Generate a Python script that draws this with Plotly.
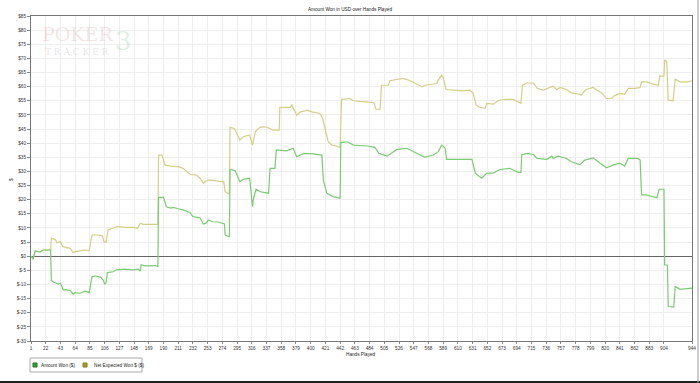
import plotly.graph_objects as go

# ---------------- data ----------------
hands_amount = [1, 4, 7, 14, 18, 29, 30, 33, 40, 43, 47, 51, 57, 61, 64, 71, 78, 84, 88, 93, 100, 104, 106, 108, 110,
                118, 123, 135, 147, 154, 157, 158, 164, 171, 178, 182, 183, 190, 194, 200, 204, 211, 218, 228, 232,
                242, 247, 251, 254, 260, 268, 277, 278, 284, 285, 292, 299, 304, 313, 317, 318, 322, 328, 340, 342,
                349, 351, 366, 375, 380, 390, 404, 416, 418, 423, 432, 442, 443, 452, 461, 480, 492, 497, 509, 523,
                537, 551, 563, 575, 582, 587, 592, 594, 630, 635, 644, 651, 661, 670, 684, 696, 700, 701, 708, 718,
                723, 737, 744, 746, 753, 765, 772, 784, 791, 803, 808, 813, 822, 832, 841, 848, 853, 867, 870, 872,
                879, 894, 897, 904, 905, 909, 910, 918, 920, 927, 944]
amount_won = [0, -1, 1.9, 1.5, 2.2, 2.2, -8.6, -9.1, -9.9, -9.5, -11.9, -11.8, -12.2, -13.4, -12.9, -13.1, -12.4,
              -12.9, -7.2, -7.0, -7.4, -8.4, -9.8, -9.5, -5.8, -5.5, -4.8, -4.6, -4.8, -4.6, -5.2, -3.0, -3.4, -3.4,
              -3.3, -3.7, 20.8, 20.8, 17.5, 17.0, 17.3, 16.8, 16.4, 15.4, 14.0, 13.6, 11.4, 11.7, 12.8, 12.2, 12.1,
              11.4, 7.5, 6.9, 30.7, 30.3, 26.4, 27.2, 27.6, 17.5, 19.9, 23.7, 22.8, 22.3, 31.1, 31.1, 37.6, 37.3,
              38.2, 35.2, 36.4, 36.2, 35.8, 27.0, 22.3, 21.1, 20.5, 40.2, 40.5, 39.3, 39.0, 38.5, 36.4, 35.4, 37.8,
              38.2, 36.6, 35.0, 35.8, 37.0, 39.3, 38.2, 34.3, 34.3, 29.3, 27.6, 29.3, 29.5, 30.7, 31.1, 29.7, 29.7,
              35.8, 36.4, 36.0, 34.6, 34.3, 35.4, 34.6, 35.4, 34.6, 33.4, 32.3, 34.0, 34.8, 34.0, 32.9, 31.3, 32.3,
              32.9, 31.9, 34.6, 34.6, 34.0, 21.7, 21.7, 20.7, 23.7, 23.7, -3.1, -3.1, -17.8, -18.0, -10.7, -11.7,
              -11.3]

hands_expected = [1, 4, 7, 14, 18, 29, 30, 36, 38, 43, 46, 50, 57, 61, 64, 71, 78, 84, 88, 97, 103, 105, 108, 111,
                  117, 124, 135, 147, 153, 157, 161, 182, 183, 188, 192, 200, 211, 218, 228, 237, 242, 247, 251, 257,
                  268, 276, 278, 284, 285, 291, 294, 299, 304, 313, 317, 321, 328, 335, 341, 347, 355, 356, 371, 373,
                  375, 380, 385, 395, 402, 413, 417, 421, 425, 430, 437, 442, 444, 456, 461, 478, 490, 493, 499, 501,
                  511, 513, 523, 532, 542, 549, 559, 563, 573, 580, 582, 587, 589, 593, 604, 618, 627, 632, 636, 641,
                  649, 651, 661, 668, 680, 689, 696, 700, 702, 708, 718, 723, 732, 742, 746, 751, 756, 765, 772, 782,
                  786, 793, 803, 808, 815, 822, 830, 832, 841, 848, 853, 863, 870, 872, 879, 889, 896, 898, 904, 905,
                  908, 910, 917, 920, 927, 936, 944]
expected_won = [0, -1, 1.9, 1.5, 2.2, 2.2, 6.4, 5.8, 4.8, 5.2, 3.4, 3.2, 2.8, 1.3, 1.6, 1.9, 2.2, 2.0, 7.5, 7.5, 7.2,
                5.2, 4.9, 9.3, 9.9, 10.5, 10.2, 10.2, 9.9, 11.7, 11.3, 11.3, 35.8, 35.8, 32.3, 31.9, 31.7, 31.1, 29.0,
                28.7, 27.6, 25.8, 26.7, 27.0, 26.6, 26.4, 22.8, 22.0, 45.6, 45.2, 43.7, 41.1, 42.3, 42.9, 39.3, 44.0,
                45.7, 45.8, 45.3, 44.6, 44.6, 52.7, 52.7, 53.7, 52.4, 49.9, 51.0, 51.7, 51.1, 50.5, 48.8, 44.6, 40.5,
                39.3, 39.0, 38.4, 55.5, 55.8, 55.0, 54.6, 54.3, 52.0, 52.0, 60.5, 60.5, 62.1, 62.6, 62.9, 62.1, 61.1,
                59.9, 60.5, 60.9, 61.1, 62.3, 64.1, 63.3, 59.0, 58.8, 58.5, 58.8, 57.6, 53.5, 52.7, 52.3, 54.1, 53.8,
                55.2, 55.5, 55.5, 54.6, 54.1, 60.5, 61.3, 61.3, 59.4, 58.8, 59.7, 60.2, 59.0, 59.7, 59.0, 57.8, 57.4,
                57.0, 59.0, 59.7, 58.8, 57.8, 55.8, 55.8, 56.6, 57.6, 57.3, 59.4, 59.4, 59.7, 61.7, 61.7, 60.9, 60.5,
                63.7, 63.7, 69.4, 68.8, 55.2, 55.0, 62.6, 61.7, 61.7, 62.0]

x_tick_vals = [1, 22, 43, 64, 85, 106, 127, 148, 169, 190, 211, 232, 253, 274, 295, 316, 337, 358, 379, 400, 421,
               442, 463, 484, 505, 526, 547, 568, 589, 610, 631, 652, 673, 694, 715, 736, 757, 778, 799, 820, 841,
               862, 883, 904, 944]
y_tick_vals = [-30, -25, -20, -15, -10, -5, 0, 5, 10, 15, 20, 25, 30, 35, 40, 45, 50, 55, 60, 65, 70, 75, 80, 85]
y_tick_text = ["$" + str(v) for v in y_tick_vals]

series_names = ["Amount Won ($)", "Net Expected Won $ ($)"]
title_text = "Amount Won in USD over Hands Played"

# ---------------- styling ----------------
W, H = 700, 383
ML, MR, MT, MB = 31, 8, 16, 42
PW, PH = W - ML - MR, H - MT - MB
FONT = "Liberation Sans, Arial, sans-serif"
FS = 4.7
GREEN_LINE = "#7acb72"
YELLOW_LINE = "#d3cf86"


def px(xp):
    return (xp - ML) / PW


def py(yp):
    return (H - MB - yp) / PH


fig = go.Figure()
fig.add_trace(go.Scatter(x=hands_expected, y=expected_won, mode="lines", name=series_names[1],
                         line=dict(color=YELLOW_LINE, width=1.2), showlegend=False))
fig.add_trace(go.Scatter(x=hands_amount, y=amount_won, mode="lines", name=series_names[0],
                         line=dict(color=GREEN_LINE, width=1.2), showlegend=False))

fig.update_layout(
    width=W, height=H,
    margin=dict(l=ML, r=MR, t=MT, b=MB, autoexpand=False),
    paper_bgcolor="white", plot_bgcolor="white",
    font=dict(family=FONT, size=FS, color="#333333"),
    title=dict(text=title_text, x=0.5, xref="container", y=1 - 9.5 / H, yref="container",
               xanchor="center", yanchor="middle", font=dict(size=FS, color="#222222")),
    showlegend=False,
)
fig.update_xaxes(range=[1, 944], tickmode="array", tickvals=x_tick_vals, showgrid=True, gridcolor="#eeeeee",
                 gridwidth=1, showline=True, linecolor="#777777", linewidth=1, mirror=True, ticks="outside",
                 ticklen=2, tickcolor="#888888", tickfont=dict(size=FS, color="#333333"), zeroline=False)
fig.update_yaxes(range=[-30, 85], tickmode="array", tickvals=y_tick_vals, ticktext=y_tick_text, showgrid=True,
                 gridcolor="#eeeeee", gridwidth=1, showline=True, linecolor="#777777", linewidth=1, mirror=True,
                 ticks="outside", ticklen=3, tickcolor="#888888", tickfont=dict(size=FS, color="#333333"),
                 zeroline=True, zerolinecolor="#666666", zerolinewidth=1)

annotations = [
    dict(text="Hands Played", x=px(361), y=py(354), xref="paper", yref="paper", showarrow=False,
         font=dict(size=FS, color="#222222"), xanchor="center", yanchor="middle"),
    dict(text="$", x=px(11), y=py(180), xref="paper", yref="paper", showarrow=False, textangle=-90,
         font=dict(size=FS, color="#222222"), xanchor="center", yanchor="middle"),
    # watermark
    dict(text="POKER", x=px(77), y=py(34), xref="paper", yref="paper", showarrow=False,
         font=dict(size=19, color="rgba(215,160,160,0.28)", family="DejaVu Serif, serif"),
         xanchor="center", yanchor="middle"),
    dict(text="T R A C K E R", x=px(77), y=py(52), xref="paper", yref="paper", showarrow=False,
         font=dict(size=9, color="rgba(170,170,170,0.3)", family="DejaVu Serif, serif"),
         xanchor="center", yanchor="middle"),
    dict(text="3", x=px(124), y=py(41), xref="paper", yref="paper", showarrow=False,
         font=dict(size=26, color="rgba(150,200,150,0.3)", family="DejaVu Serif, serif"),
         xanchor="center", yanchor="middle"),
    # legend text
    dict(text=series_names[0], x=px(38.5), y=py(365), xref="paper", yref="paper", showarrow=False,
         font=dict(size=FS, color="#222222"), xanchor="left", yanchor="middle"),
    dict(text=series_names[1], x=px(91.5), y=py(365), xref="paper", yref="paper", showarrow=False,
         font=dict(size=FS, color="#222222"), xanchor="left", yanchor="middle"),
]
fig.update_layout(annotations=annotations)

shapes = [
    # legend box
    dict(type="rect", xref="paper", yref="paper", x0=px(30), x1=px(142), y0=py(372), y1=py(358),
         line=dict(color="#aaaaaa", width=1), fillcolor="white"),
    dict(type="rect", xref="paper", yref="paper", x0=px(33), x1=px(37), y0=py(367), y1=py(363),
         line=dict(color="#1f7a1f", width=1), fillcolor="#2f9e2f"),
    dict(type="rect", xref="paper", yref="paper", x0=px(83), x1=px(87), y0=py(367), y1=py(363),
         line=dict(color="#7a7a10", width=1), fillcolor="#a9a22e"),
    # image frame lines
    dict(type="line", xref="paper", yref="paper", x0=px(0), x1=px(700), y0=py(382), y1=py(382),
         line=dict(color="#222222", width=2)),
    dict(type="line", xref="paper", yref="paper", x0=px(698), x1=px(698), y0=py(0), y1=py(383),
         line=dict(color="#999999", width=1)),
]
fig.update_layout(shapes=shapes)

fig.write_html("out.html", config={"displayModeBar": False},
               post_script="document.body.style.margin='0';document.body.style.overflow='hidden';")
